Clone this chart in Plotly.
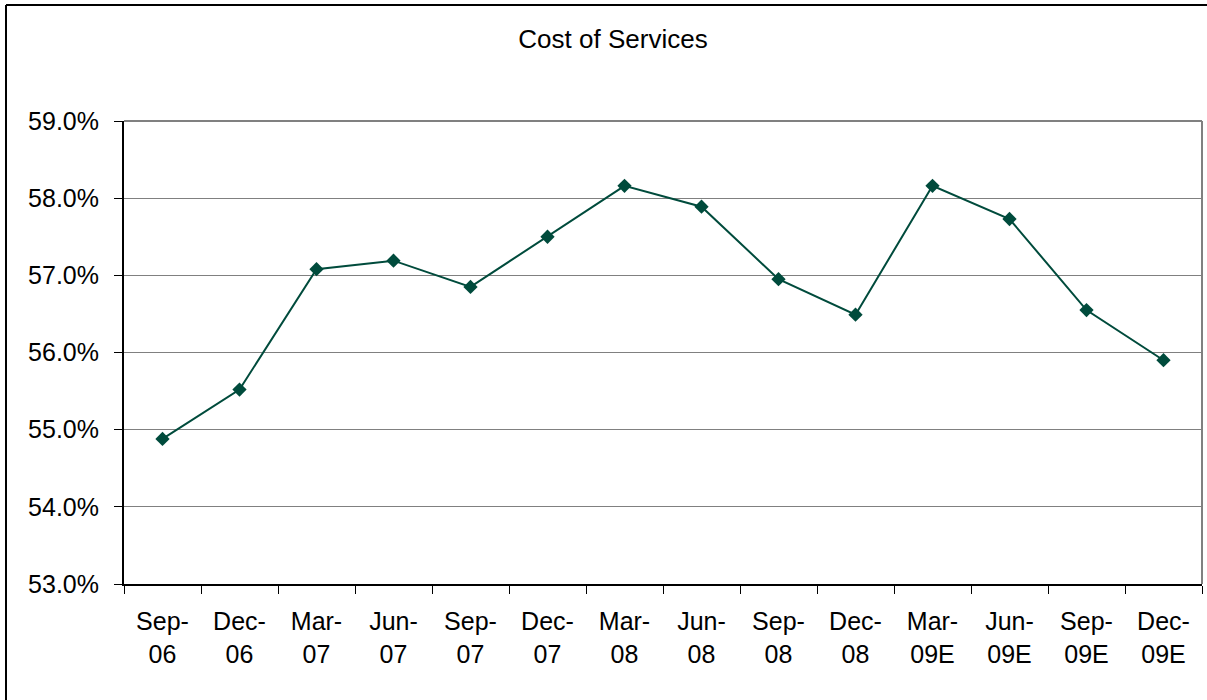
import plotly.graph_objects as go

categories = ["Sep-<br>06", "Dec-<br>06", "Mar-<br>07", "Jun-<br>07", "Sep-<br>07", "Dec-<br>07",
              "Mar-<br>08", "Jun-<br>08", "Sep-<br>08", "Dec-<br>08", "Mar-<br>09E", "Jun-<br>09E",
              "Sep-<br>09E", "Dec-<br>09E"]
cost_pct = [54.88, 55.52, 57.08, 57.19, 56.85, 57.50, 58.16, 57.89, 56.95, 56.49, 58.16, 57.73, 56.55, 55.90]
y_ticks = [53, 54, 55, 56, 57, 58, 59]

FONT = "Liberation Sans, Arial, sans-serif"
GREEN = "#004B3C"

fig = go.Figure()
fig.add_trace(go.Scatter(
    x=categories, y=cost_pct, mode="lines+markers",
    line=dict(color=GREEN, width=2),
    marker=dict(symbol="diamond", size=11, color=GREEN),
    hoverinfo="skip", showlegend=False,
))

L, R, T, B = 124, 5, 121, 116
W, H = 1207, 700
pw, ph = W - L - R, H - T - B

def px_x(p):
    return (p - L) / pw

def px_y(p):
    return (H - B - p) / ph

fig.update_layout(
    width=W, height=H,
    margin=dict(l=L, r=R, t=T, b=B, pad=0),
    paper_bgcolor="white", plot_bgcolor="white",
    font=dict(family=FONT, size=25, color="black"),
    title=dict(text="Cost of Services", x=px_x(613), xref="paper", xanchor="center",
               y=1 - 39 / H, yanchor="middle", font=dict(family=FONT, size=26, color="black")),
    xaxis=dict(
        type="category", showgrid=False, showline=True, linecolor="black", linewidth=2,
        ticks="outside", ticklen=8, tickcolor="black", tickwidth=1, tickson="boundaries",
        tickfont=dict(family=FONT, size=25, color="black"), ticklabelstandoff=14,
        range=[-0.5, len(categories) - 0.5], fixedrange=True,
    ),
    yaxis=dict(
        range=[53, 59], tickvals=y_ticks, ticktext=[f"{v:.1f}%" for v in y_ticks],
        showgrid=True, gridcolor="#808080", gridwidth=1,
        showline=True, linecolor="black", linewidth=2,
        ticks="outside", ticklen=8, tickcolor="black", tickwidth=1,
        tickfont=dict(family=FONT, size=25, color="black"), ticklabelstandoff=10,
        zeroline=False, fixedrange=True,
    ),
    shapes=[
        dict(type="line", xref="paper", yref="paper", x0=0, x1=1, y0=1, y1=1,
             line=dict(color="#808080", width=2)),
        dict(type="line", xref="paper", yref="paper", x0=1, x1=1, y0=0, y1=1,
             line=dict(color="#808080", width=2)),
        # outer chart border: only left and top edges are inside the picture
        dict(type="line", xref="paper", yref="paper",
             x0=px_x(6), x1=px_x(6), y0=px_y(5), y1=px_y(710),
             line=dict(color="black", width=2)),
        dict(type="line", xref="paper", yref="paper",
             x0=px_x(6), x1=px_x(1215), y0=px_y(5), y1=px_y(5),
             line=dict(color="black", width=2)),
    ],
)

fig.write_html("out.html")
